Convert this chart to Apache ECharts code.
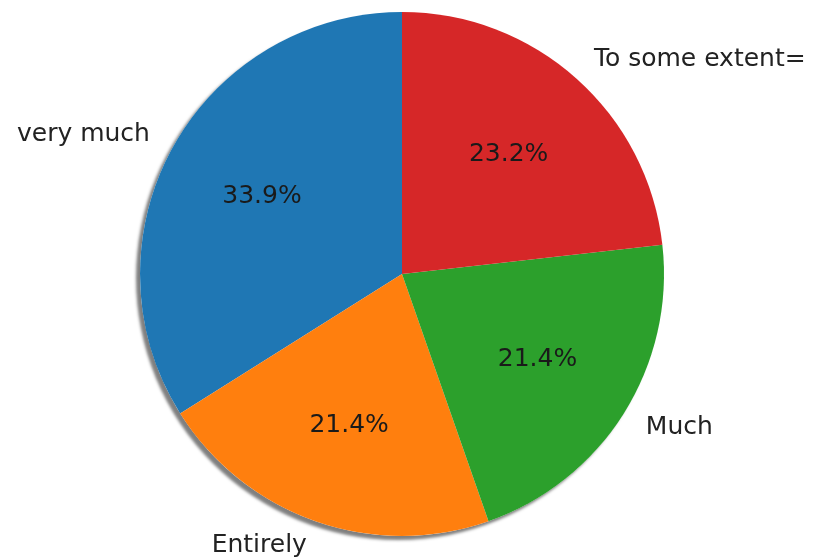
<!DOCTYPE html>
<html>
<head>
<meta charset="utf-8">
<script src="https://cdn.jsdelivr.net/npm/echarts@6/dist/echarts.min.js"></script>
<style>
html,body{margin:0;padding:0;background:#fff;}
#chart{width:818px;height:558px;}
</style>
</head>
<body>
<div id="chart"></div>
<script>
const categories = ['very much', 'Entirely', 'Much', 'To some extent='];
const counts = [19, 12, 12, 13];
const colors = ['#1f77b4', '#ff7f0e', '#2ca02c', '#d62728'];

const R = 262;
const CENTER = [402, 274];
const FONT = 'DejaVu Sans';
const FS = 25;
const total = counts.reduce((a, b) => a + b, 0);

const chart = echarts.init(document.getElementById('chart'), null, {renderer: 'canvas'});
chart.setOption({
  animation: false,
  backgroundColor: '#ffffff',
  series: [
    {
      // shadow disc
      type: 'pie', silent: true, center: CENTER, radius: R,
      startAngle: 90, clockwise: false,
      label: {show: false}, labelLine: {show: false},
      itemStyle: {color: '#ffffff', shadowColor: 'rgba(0,0,0,0.5)', shadowBlur: 3, shadowOffsetX: -4, shadowOffsetY: 4},
      data: [{value: total, name: 'shadow'}]
    },
    {
      type: 'pie', silent: true, center: CENTER, radius: R,
      startAngle: 90, clockwise: false, avoidLabelOverlap: false,
      minAngle: 0,
      itemStyle: {borderWidth: 0},
      label: {
        show: true, position: 'outside', distanceToLabelLine: 0,
        fontFamily: FONT, fontSize: FS, color: '#222222',
        formatter: p => p.name
      },
      labelLine: {show: false, length: Math.round(R * 0.1), length2: 0},
      data: categories.map((c, i) => ({name: c, value: counts[i], itemStyle: {color: colors[i]}}))
    },
    {
      type: 'pie', silent: true, center: CENTER, radius: Math.round(R * 1.2),
      startAngle: 90, clockwise: false, avoidLabelOverlap: false,
      itemStyle: {color: 'rgba(0,0,0,0)', borderWidth: 0},
      label: {
        show: true, position: 'inside',
        fontFamily: FONT, fontSize: FS, color: '#1a1a1a',
        formatter: p => (p.value / total * 100).toFixed(1) + '%'
      },
      labelLine: {show: false},
      data: categories.map((c, i) => ({name: c, value: counts[i]}))
    }
  ]
});
</script>
</body>
</html>
